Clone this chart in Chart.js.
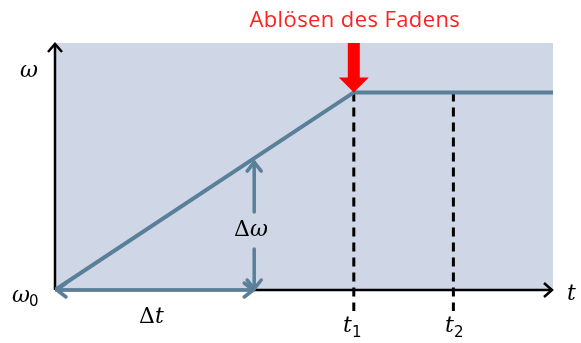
<!DOCTYPE html>
<html><head><meta charset="utf-8">
<script src="https://cdn.jsdelivr.net/npm/chart.js@4/dist/chart.umd.min.js"></script>
<style>html,body{margin:0;padding:0;background:#fff}#wrap{width:581px;height:343px}</style>
</head><body><div id="wrap"><canvas id="c" width="581" height="343"></canvas></div>
<script>
// values in data units (t from 0..10, omega from 0..10)
const omegaCurve = [{x:0,y:0},{x:6,y:8},{x:10,y:8}];
const t1Line = [{x:6,y:8},{x:6,y:-0.85}];
const t2Line = [{x:8,y:8},{x:8,y:-0.85}];
const deltaT = [0,4];          // horizontal arrow at omega0
const deltaOmega = [0,5.3];    // vertical arrow at t=4
const deltaOmegaX = 4;
const releaseArrow = {x:6, yTop:10, yTip:8};
const labels = {title:'Ablösen des Fadens', w:'ω', w0:'ω', t:'t', dt:'Δt', dw:'Δω'};

const BLUE = '#5a7f98', BG = '#cfd7e6';

const deco = {
  id:'deco',
  beforeDatasetsDraw(ch){
    const {ctx, chartArea:a, scales:{x,y}} = ch;
    ctx.save();
    ctx.fillStyle = BG;
    ctx.fillRect(a.left, a.top, a.right-a.left, a.bottom-a.top);
    // axes
    ctx.strokeStyle = '#000'; ctx.lineWidth = 2.5; ctx.lineCap='butt';
    const x0 = x.getPixelForValue(0), y0 = y.getPixelForValue(0);
    ctx.beginPath(); ctx.moveTo(x0, y0); ctx.lineTo(x0, y.getPixelForValue(10)+1); ctx.stroke();
    ctx.beginPath(); ctx.moveTo(x0, y0); ctx.lineTo(x.getPixelForValue(10)-1, y0); ctx.stroke();
    // arrow heads
    const xt = x.getPixelForValue(10), yt = y.getPixelForValue(10);
    ctx.lineWidth = 2.5; ctx.lineJoin='miter';
    ctx.beginPath(); ctx.moveTo(x0-7, yt+9); ctx.lineTo(x0, yt+1); ctx.lineTo(x0+7, yt+9); ctx.stroke();
    ctx.beginPath(); ctx.moveTo(xt-9, y0-7); ctx.lineTo(xt-1, y0); ctx.lineTo(xt-9, y0+7); ctx.stroke();
    ctx.restore();
  },
  afterDatasetsDraw(ch){
    const {ctx, scales:{x,y}} = ch;
    ctx.save();
    ctx.strokeStyle = BLUE; ctx.lineWidth = 3.5; ctx.lineCap='round'; ctx.lineJoin='round';
    // delta t arrow
    const ya = y.getPixelForValue(0);
    const xa = x.getPixelForValue(deltaT[0])+2, xb = x.getPixelForValue(deltaT[1])-1;
    ctx.beginPath(); ctx.moveTo(xa, ya); ctx.lineTo(xb, ya); ctx.stroke();
    ctx.beginPath(); ctx.moveTo(xa+9, ya-7); ctx.lineTo(xa, ya); ctx.lineTo(xa+9, ya+7); ctx.stroke();
    ctx.beginPath(); ctx.moveTo(xb-9, ya-7); ctx.lineTo(xb, ya); ctx.lineTo(xb-9, ya+7); ctx.stroke();
    // delta omega arrow
    const xw = x.getPixelForValue(deltaOmegaX);
    const yb = y.getPixelForValue(deltaOmega[0])-1, yt = y.getPixelForValue(deltaOmega[1])+3;
    ctx.beginPath(); ctx.moveTo(xw, yt); ctx.lineTo(xw, yt+50); ctx.stroke();
    ctx.beginPath(); ctx.moveTo(xw, yb-40); ctx.lineTo(xw, yb); ctx.stroke();
    ctx.beginPath(); ctx.moveTo(xw-7, yt+9); ctx.lineTo(xw, yt); ctx.lineTo(xw+7, yt+9); ctx.stroke();
    ctx.beginPath(); ctx.moveTo(xw-7, yb-9); ctx.lineTo(xw, yb); ctx.lineTo(xw+7, yb-9); ctx.stroke();
    // red arrow
    const xr = x.getPixelForValue(releaseArrow.x);
    const ytop = y.getPixelForValue(releaseArrow.yTop), ytip = y.getPixelForValue(releaseArrow.yTip);
    ctx.fillStyle = '#ff0000';
    ctx.beginPath();
    ctx.moveTo(xr-6, ytop); ctx.lineTo(xr+6, ytop); ctx.lineTo(xr+6, ytip-15);
    ctx.lineTo(xr+15, ytip-15); ctx.lineTo(xr, ytip); ctx.lineTo(xr-15, ytip-15);
    ctx.lineTo(xr-6, ytip-15); ctx.closePath(); ctx.fill();
    // texts
    ctx.fillStyle = '#ff2020'; ctx.textAlign='center'; ctx.textBaseline='alphabetic';
    ctx.font = '22px "Open Sans", sans-serif';
    try { ctx.letterSpacing = '0.4px'; } catch(e) {}
    ctx.fillText(labels.title, xr+1, 27);
    try { ctx.letterSpacing = '0px'; } catch(e) {}
    ctx.fillStyle = '#000';
    const it = 'italic 22px "DejaVu Serif", serif';
    const up = '22px "DejaVu Serif", serif';
    const sub = '15px "DejaVu Sans", sans-serif';
    ctx.font = it; ctx.fillText(labels.w, 29, 77);
    ctx.textAlign='left';
    ctx.fillText(labels.w0, 12, 302);
    ctx.font = sub; ctx.fillText('0', 29, 306);
    ctx.font = it; ctx.fillText(labels.t, 567, 300);
    // delta t
    ctx.font = up; ctx.fillText('Δ', 139, 323);
    ctx.font = it; ctx.fillText('t', 155, 323);
    // delta omega
    ctx.font = up; ctx.fillText('Δ', 234, 236);
    ctx.font = it; ctx.fillText('ω', 250, 236);
    // t1, t2
    ctx.font = it; ctx.fillText('t', 343, 332); ctx.font = sub; ctx.fillText('1', 352, 337);
    ctx.font = it; ctx.fillText('t', 445, 332); ctx.font = sub; ctx.fillText('2', 454, 337);
    ctx.restore();
  }
};

new Chart(document.getElementById('c'), {
  type:'line',
  data:{datasets:[
    {data:omegaCurve, borderColor:BLUE, borderWidth:4, pointRadius:0, tension:0, borderCapStyle:'round'},
    {data:t1Line, borderColor:'#000', borderWidth:3, borderDash:[9,6], pointRadius:0, clip:false},
    {data:t2Line, borderColor:'#000', borderWidth:3, borderDash:[9,6], pointRadius:0, clip:false}
  ]},
  options:{
    responsive:false, animation:false,
    layout:{padding:{left:55, right:28, top:43, bottom:53}},
    plugins:{legend:{display:false}, tooltip:{enabled:false}},
    scales:{
      x:{type:'linear', min:0, max:10, display:false},
      y:{type:'linear', min:0, max:10, display:false}
    }
  },
  plugins:[deco]
});
</script></body></html>
